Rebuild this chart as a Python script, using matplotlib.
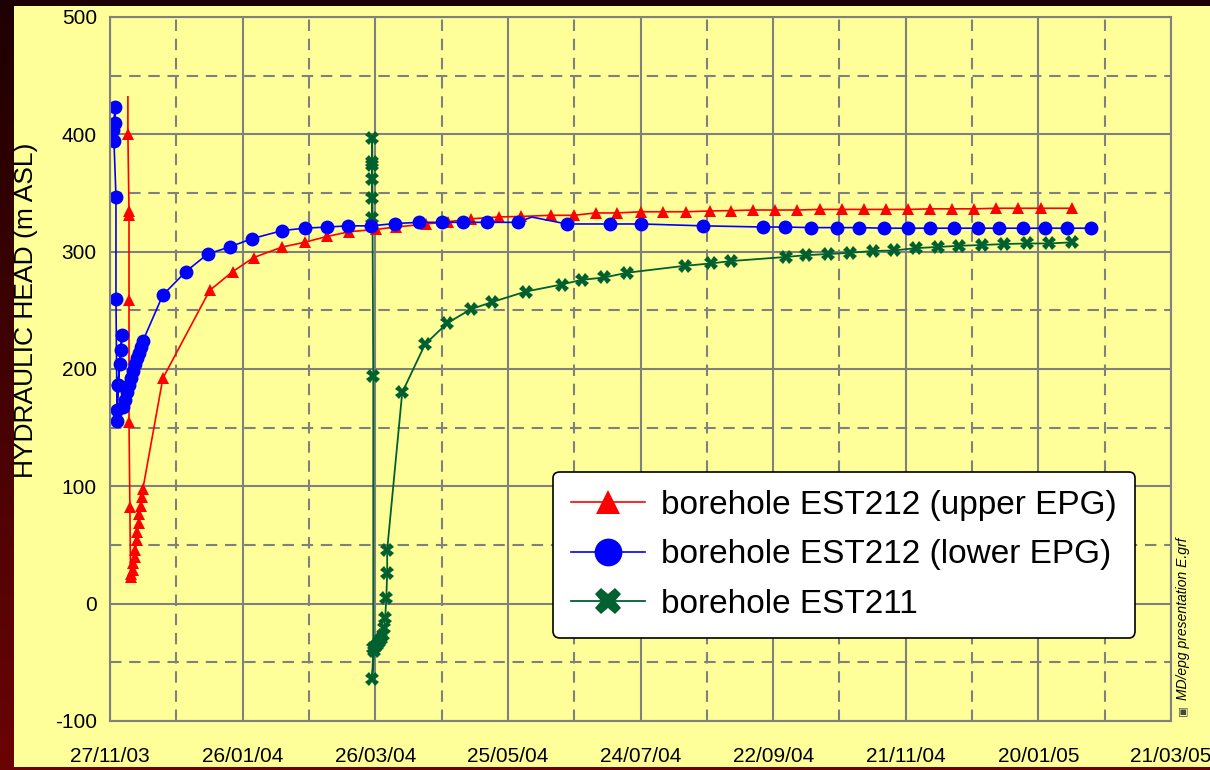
import numpy as np
import pandas as pd
import matplotlib
matplotlib.use("Agg")
import matplotlib.pyplot as plt
from matplotlib.patches import Rectangle

plt.rcParams["font.family"] = ["Liberation Sans", "DejaVu Sans"]
plt.rcParams["axes.unicode_minus"] = False

start = pd.Timestamp("2003-11-27")

# days after 27/11/03, hydraulic head in m ASL
up_days = [8.1, 8.1, 8.6, 8.6, 8.6, 8.6, 9.0, 9.3, 9.6, 10.2, 10.6, 11.1, 11.5, 12.0, 12.4,
           12.9, 13.3, 13.8, 14.4, 14.9, 23.9, 45.1, 55.5, 65.0, 78.0, 88.0, 98.3, 108.3,
           120.4, 129.5, 143.0, 153.0, 163.3, 176.0, 185.9, 199.4, 209.8, 219.7, 229.2,
           240.4, 250.4, 260.7, 271.6, 281.0, 291.0, 301.0, 311.0, 321.0, 331.0, 341.0,
           351.0, 361.0, 371.0, 381.0, 391.0, 401.0, 411.0, 421.0, 435.0]
up_head = [432, 400, 335, 331, 259, 155, 82, 23, 25, 29, 35, 40, 46, 54, 61,
           69, 76, 83, 91, 98, 192, 267, 283, 295, 304, 308, 313, 317,
           319, 321, 323.6, 325.5, 328, 329.6, 330, 331, 331, 333, 333,
           334, 334, 334, 334.7, 335, 335.5, 335.5, 335.5, 336, 336, 336,
           336, 336, 336.5, 336.5, 336.5, 337, 337, 337, 337]

low_days = [1.4, 2.3, 2.3, 1.8, 2.7, 2.7, 3.2, 3.6, 5.4, 5.0, 4.5, 3.6, 3.2, 5.9, 6.8,
            7.7, 8.6, 9.5, 10.4, 11.3, 12.2, 13.1, 14.0, 14.9, 23.9, 34.3, 44.2, 54.1,
            64.1, 78.0, 88.0, 98.3, 107.8, 118.2, 129.0, 139.8, 150.2, 159.7, 170.5,
            184.5, 190.8, 206.6, 226.0, 240.4, 268.4, 295.5, 305.4, 317.0, 329.0, 339.0,
            350.0, 361.0, 371.0, 382.0, 392.5, 402.0, 413.0, 423.0, 433.0, 444.0]
low_head = [404, 423, 410, 394, 347, 260, 156, 186, 229, 216, 204, 186, 165, 168, 174,
            180, 186, 192, 198, 204, 209, 214, 219, 224, 263, 283, 298, 304,
            311, 318, 320, 321, 322, 322, 324, 325, 325, 325, 325,
            325, 329.5, 323.6, 323.6, 323.6, 322, 321, 321, 320.5, 320.5, 320.5,
            320, 320, 320, 320, 320, 320, 320, 320, 320, 320]

e211_days = [118.6, 118.6, 118.6, 118.6, 118.6, 118.6, 119.1, 119.1, 118.6, 119.5, 120.0,
             120.9, 121.8, 122.7, 123.6, 124.0, 124.5, 125.0, 125.4, 125.4, 132.2, 142.5,
             152.5, 163.3, 172.8, 188.1, 204.3, 213.4, 223.7, 233.7, 260.3, 272.0, 281.0,
             305.9, 314.9, 324.8, 334.7, 345.1, 354.6, 364.5, 374.4, 384.3, 394.7, 404.6,
             415.0, 424.9, 435.3]
e211_head = [329, 346, 362, 374, 376, 397, 194, -38, -64, -40, -37,
             -35, -33, -30, -27, -21, -12, 5, 26, 46, 180, 221,
             239, 251, 257, 266, 272, 276, 278, 282, 288, 290, 292,
             295.5, 297, 298, 299, 300.6, 301, 303, 304, 305, 305.7, 306.5,
             307, 307, 308]

tick_labels = ["27/11/03", "26/01/04", "26/03/04", "25/05/04", "24/07/04",
               "22/09/04", "21/11/04", "20/01/05", "21/03/05"]


def to_dates(days):
    return start + pd.to_timedelta(days, unit="D")


fig = plt.figure(figsize=(12.1, 7.7), dpi=100)

# dark red frame with yellow panel
bg = fig.add_axes([0, 0, 1, 1], zorder=-10)
grad = np.linspace(0, 1, 256).reshape(-1, 1)
cmap = matplotlib.colors.LinearSegmentedColormap.from_list("frame", ["#1e0000", "#6a0404"])
bg.imshow(grad, aspect="auto", cmap=cmap, extent=[0, 1210, 770, 0])
bg.add_patch(Rectangle((14, 6), 1196, 761, facecolor="#FFFF99", edgecolor="none"))
bg.set_xlim(0, 1210)
bg.set_ylim(770, 0)
bg.axis("off")

ax = fig.add_axes([110 / 1210, 1 - 721 / 770, 1061 / 1210, 704 / 770])
ax.set_facecolor("#FFFF99")

l3, = ax.plot(to_dates(e211_days), e211_head, color="#006030", lw=1.3, marker="X",
              markersize=9.5, markeredgewidth=0, label="borehole EST211")
l1, = ax.plot(to_dates(up_days), up_head, color="#FF0000", lw=1.2, marker="^",
              markersize=8.5, markeredgewidth=0, markevery=list(range(1, len(up_days))),
              label="borehole EST212 (upper EPG)")
low_marks = [i for i in range(len(low_days)) if i != 40]
l2, = ax.plot(to_dates(low_days), low_head, color="#0000FF", lw=1.2, marker="o",
              markersize=10, markeredgewidth=0, markevery=low_marks,
              label="borehole EST212 (lower EPG)")

major = to_dates([0, 60, 120, 180, 240, 300, 360, 420, 480])
minor = to_dates([30, 90, 150, 210, 270, 330, 390, 450])
ax.set_xlim(major[0], major[-1])
ax.set_xticks(major)
ax.set_xticks(minor, minor=True)
ax.set_xticklabels(tick_labels, fontsize=15)
ax.set_ylim(-100, 500)
ax.set_yticks(np.arange(-100, 501, 100))
ax.set_yticks(np.arange(-50, 500, 100), minor=True)
ax.tick_params(axis="y", labelsize=15, length=0, pad=9.5)
ax.tick_params(axis="x", length=0, pad=19)
ax.tick_params(which="minor", length=0)

ax.grid(which="major", color="#808080", lw=1.5, ls="-")
ax.grid(which="minor", color="#808080", lw=1.5, ls=(0, (5.5, 3.7)))
ax.set_axisbelow(True)
for s in ax.spines.values():
    s.set_color("#808080")
    s.set_linewidth(1.5)

ax.set_ylabel("HYDRAULIC HEAD (m ASL)", fontsize=19)
ax.yaxis.set_label_coords(-0.0679, 0.584)

leg = ax.legend(handles=[l1, l2, l3], loc="lower left", bbox_to_anchor=(0.4175, 0.118),
                fontsize=24, frameon=True, fancybox=True, framealpha=1, edgecolor="black",
                facecolor="white", handlelength=2.2, handletextpad=0.5, labelspacing=0.55,
                markerscale=2, borderpad=0.55, borderaxespad=0)
leg.get_frame().set_linewidth(1.2)

fig.text(1183 / 1210, 1 - 700 / 770, "MD/epg presentation E.grf", rotation=90, style="italic",
         fontsize=10, ha="center", va="bottom")
fig.text(1183 / 1210, 1 - 712 / 770, "\u25a3", fontsize=8, ha="center", va="center",
         family=["DejaVu Sans"], color="#444444")

fig.savefig("out.png", dpi=100)
